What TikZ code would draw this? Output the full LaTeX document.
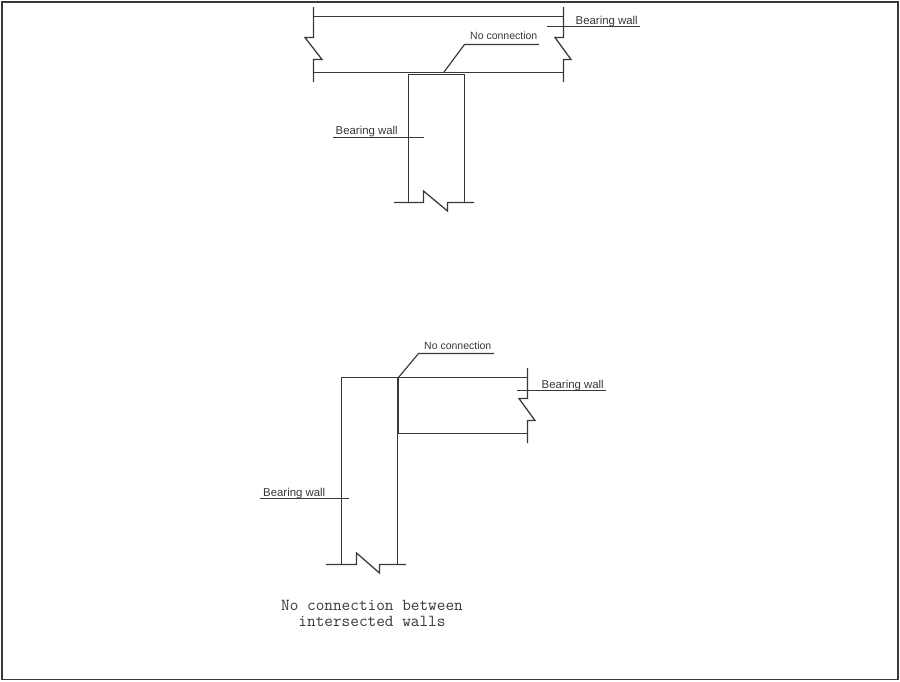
\documentclass[tikz,border=0pt]{standalone}
\usepackage{fontspec}
\setmainfont{Liberation Sans}
\setmonofont{Latin Modern Mono}
\definecolor{ink}{gray}{0.22}
\tikzset{
  wall/.style={draw=ink,line width=1.25pt,line join=miter},
  leader/.style={draw=ink,line width=1.15pt},
  tag/.style={inner sep=0pt,text=ink,font=\fontsize{11.4}{12}\selectfont,anchor=base west},
  tagb/.style={tag,font=\fontsize{10.5}{12}\selectfont},
  caption/.style={inner sep=0pt,text=ink,align=center,font=\ttfamily\fontsize{16.8}{16}\selectfont}
}
\begin{document}
\begin{tikzpicture}[x=1pt,y=-1pt]
\useasboundingbox (0,0) rectangle (900,681);
\fill[white] (0,0) rectangle (900,681);
\draw[draw=ink,line width=1.5pt] (2,2) rectangle (898,679.5);
% upper detail: through wall
\coordinate (tl) at (313.5,16.5); \coordinate (tr) at (563.5,16.5);
\coordinate (bl) at (313.5,72.5); \coordinate (br) at (563.5,72.5);
\draw[wall] (tl) -- (tr);
\draw[wall] (bl) -- (br);
\draw[wall] (313.5,7) -- (313.5,37.5) -- (305,37.5) -- (322,59.5) -- (313.5,59.5) -- (313.5,82);
\draw[wall] (563.5,7) -- (563.5,37.5) -- (555,37.5) -- (571,59.5) -- (563.5,59.5) -- (563.5,82);
\draw[wall] (408.5,202.5) -- (408.5,74.5) -- (464.5,74.5) -- (464.5,202.5);
\draw[wall] (394,202.5) -- (423.5,202.5) -- (423.5,191) -- (447.5,211) -- (447.5,202.5) -- (474,202.5);
% upper labels
\node[tag] (t1) at (575.5,24.5) {Bearing wall};
\draw[leader] (547,26.5) -- (640,26.5);
\node[tagb] (t2) at (470,39) {No connection};
\coordinate (p2) at (444,72);
\draw[leader] (p2) -- (464.5,44.5) -- (539,44.5);
\node[tag] (t3) at (335.5,134.5) {Bearing wall};
\draw[leader] (333,137.5) -- (424,137.5);
% lower detail: corner
\draw[wall] (341.5,564.5) -- (341.5,377.5) -- (397.5,377.5) -- (397.5,564.5);
\draw[wall] (398.5,377.5) -- (527.5,377.5);
\draw[wall] (398.5,377.5) -- (398.5,433.5) -- (527.5,433.5);
\draw[wall] (527.5,368) -- (527.5,398.5) -- (519,398.5) -- (535,420.5) -- (527.5,420.5) -- (527.5,443);
\draw[wall] (326,564.5) -- (356.5,564.5) -- (356.5,553) -- (379.5,573) -- (379.5,564.5) -- (406,564.5);
% lower labels
\node[tagb] (t4) at (424,349) {No connection};
\coordinate (p4) at (398,378);
\draw[leader] (p4) -- (418.5,353.5) -- (494,353.5);
\node[tag] (t5) at (541.5,388.5) {Bearing wall};
\draw[leader] (517,390.5) -- (606,390.5);
\node[tag] (t6) at (263,496) {Bearing wall};
\draw[leader] (260,498.5) -- (349,498.5);
\node[caption] (cap) at (372,613) {No connection between\\intersected walls};
\end{tikzpicture}
\end{document}
